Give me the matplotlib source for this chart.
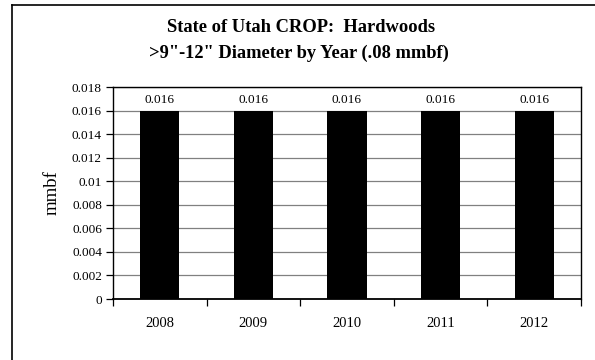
import matplotlib
matplotlib.use("Agg")
import matplotlib.pyplot as plt
from matplotlib.lines import Line2D

years = ["2008", "2009", "2010", "2011", "2012"]
values = [0.016, 0.016, 0.016, 0.016, 0.016]
bar_labels = ["0.016", "0.016", "0.016", "0.016", "0.016"]
yticks = [0, 0.002, 0.004, 0.006, 0.008, 0.01, 0.012, 0.014, 0.016, 0.018]
ytick_labels = ["0", "0.002", "0.004", "0.006", "0.008", "0.01", "0.012", "0.014", "0.016", "0.018"]

plt.rcParams['font.family'] = ['Liberation Serif', 'DejaVu Serif']

W, H = 595, 360
fig = plt.figure(figsize=(W/100, H/100), dpi=100)
fig.patch.set_facecolor('white')

# outer frame (left and top edges visible)
fig.add_artist(Line2D([12/W, 12/W], [0, 1 - 5/H], transform=fig.transFigure, color='black', lw=1.2))
fig.add_artist(Line2D([12/W, 1], [1 - 5/H, 1 - 5/H], transform=fig.transFigure, color='black', lw=1.2))

left, right, top, bottom = 113, 581, 87, 299
ax = fig.add_axes([left/W, 1 - bottom/H, (right-left)/W, (bottom-top)/H])

x = list(range(len(years)))
ax.bar(x, values, width=0.42, color='black', zorder=3)
ax.set_xlim(-0.5, len(years) - 0.5)
ax.set_ylim(0, 0.018)
ax.set_yticks(yticks)
ax.set_yticklabels(ytick_labels, fontsize=9.5)
ax.set_xticks(x)
ax.set_xticklabels(years, fontsize=10.5)
ax.tick_params(axis='x', length=0, pad=13)
ax.set_xticks([i - 0.5 for i in range(len(years) + 1)], minor=True)
ax.tick_params(axis='x', which='minor', length=5, width=0.9, direction='out')
ax.tick_params(axis='y', length=5, width=0.9, direction='out', pad=3)
ax.yaxis.grid(True, color='#808080', lw=0.9, zorder=0)
for s in ax.spines.values():
    s.set_color('black')
    s.set_linewidth(1.0)
ax.spines['bottom'].set_linewidth(1.3)

for xi, v, lab in zip(x, values, bar_labels):
    ax.annotate(lab, (xi, v), xytext=(0, 3), textcoords='offset points',
                ha='center', va='bottom', fontsize=9.5)

ax.set_ylabel("mmbf", fontsize=13.5, labelpad=8)

fig.text(301/W, 1 - 28/H, "State of Utah CROP:  Hardwoods", ha='center', va='center',
         fontsize=13.3, fontweight='bold')
fig.text(299/W, 1 - 53/H, ">9\"-12\" Diameter by Year (.08 mmbf)", ha='center', va='center',
         fontsize=13.3, fontweight='bold')

fig.savefig("out.png", dpi=100)
